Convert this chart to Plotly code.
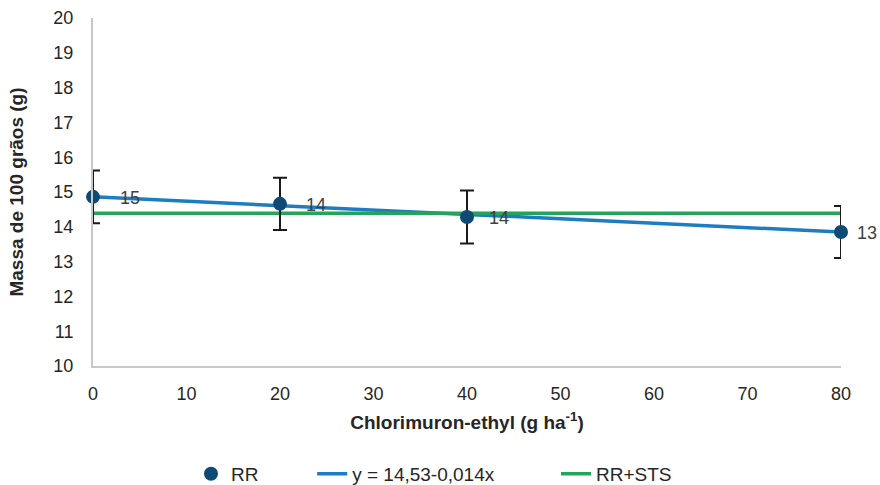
import plotly.graph_objects as go

doses = [0, 20, 40, 80]
rr_mass = [14.86, 14.66, 14.28, 13.85]
rr_err = [0.76, 0.75, 0.76, 0.75]
rr_labels = ["15", "14", "14", "13"]

fit_x = [0, 80]
fit_y = [14.86, 13.85]

sts_x = [0, 80]
sts_y = [14.39, 14.39]

y_ticks = list(range(10, 21))
x_ticks = list(range(0, 81, 10))

# label horizontal offsets (style)
label_shift = [25, 24, 20, 14]

font_family = "Liberation Sans, Arial, sans-serif"

fig = go.Figure()

fig.add_trace(go.Scatter(
    x=fit_x, y=fit_y, mode="lines", name="y = 14,53-0,014x",
    line=dict(color="#1C7DC1", width=3.5), cliponaxis=False, legend="legend2",
))
fig.add_trace(go.Scatter(
    x=sts_x, y=sts_y, mode="lines", name="RR+STS",
    line=dict(color="#22A45B", width=3.5), cliponaxis=False, legend="legend3",
))
fig.add_trace(go.Scatter(
    x=doses, y=rr_mass, mode="markers", name="RR",
    marker=dict(color="#0D4A74", size=14),
    error_y=dict(type="data", array=rr_err, color="#1a1a1a", thickness=2, width=7),
    cliponaxis=False, legend="legend",
))

for xv, yv, lab, sh in zip(doses, rr_mass, rr_labels, label_shift):
    fig.add_annotation(x=xv, y=yv, text=lab, showarrow=False, xanchor="left",
                       yanchor="middle", xshift=sh, yshift=-1,
                       font=dict(size=18, color="#404040", family=font_family))

leg_common = dict(orientation="h", xanchor="left", y=-0.31, yanchor="middle",
                  font=dict(size=19, color="#262626"), bgcolor="rgba(0,0,0,0)")

fig.update_layout(
    width=880, height=485,
    margin=dict(l=93, r=39, t=18, b=119, autoexpand=False),
    plot_bgcolor="white", paper_bgcolor="white",
    font=dict(family=font_family, size=18, color="#262626"),
    showlegend=True,
    legend=dict(x=0.131, **leg_common),
    legend2=dict(x=0.293, **leg_common),
    legend3=dict(x=0.619, **leg_common),
    xaxis=dict(
        range=[0, 80], tickvals=x_ticks, showgrid=False, zeroline=False,
        showline=True, linecolor="#C8C8C8", linewidth=2, ticks="",
        ticklabelstandoff=10, automargin=False,
        title=dict(text="<b>Chlorimuron-ethyl (g ha<sup>-1</sup>)</b>", font=dict(size=19), standoff=13),
        tickfont=dict(size=18),
    ),
    yaxis=dict(
        range=[10, 20], tickvals=y_ticks, showgrid=False, zeroline=False,
        showline=True, linecolor="#C8C8C8", linewidth=2, ticks="",
        ticklabelstandoff=14, automargin=False,
        title=dict(text="<b>Massa de 100 grãos (g)</b>", font=dict(size=19), standoff=25),
        tickfont=dict(size=18),
    ),
)

fig.write_html(
    "out.html",
    config={"displayModeBar": False},
    post_script="document.body.style.margin='0';document.body.style.overflow='hidden';",
)
